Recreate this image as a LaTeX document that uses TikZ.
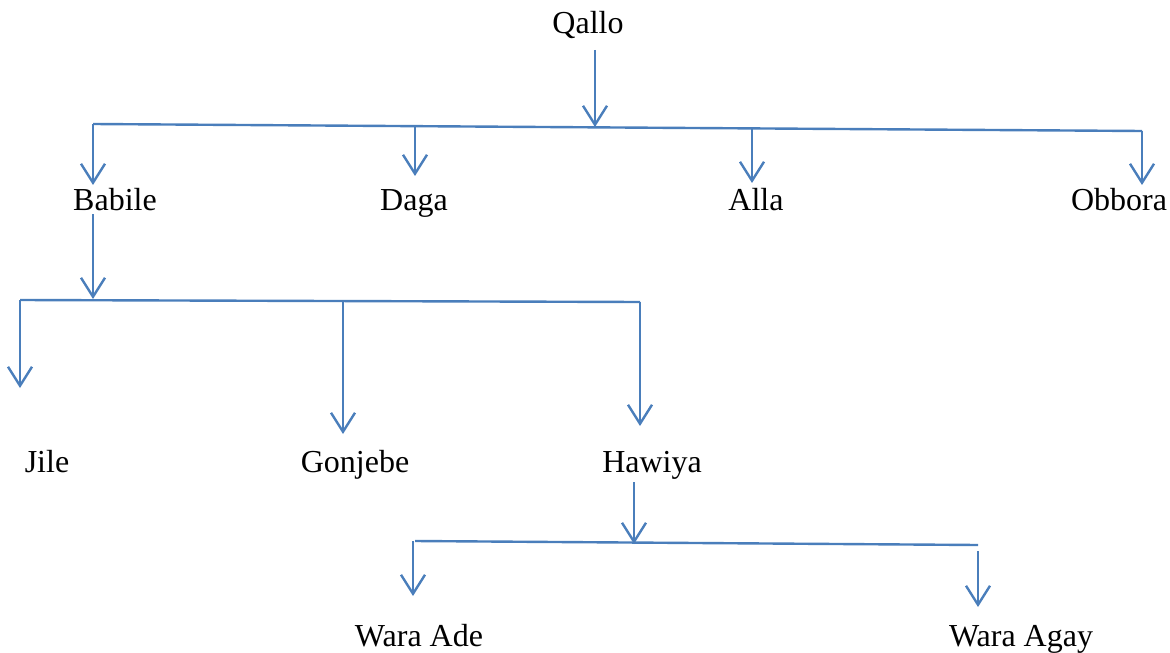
\documentclass[tikz,border=0pt]{standalone}
\usepackage{fontspec}
\setmainfont{Liberation Serif}
\usepackage{xcolor}
\usetikzlibrary{arrows.meta}
\definecolor{linkblue}{RGB}{74,126,187}

\begin{document}
\begin{tikzpicture}[x=0.5pt, y=-0.5pt,
        clan/.style={font=\fontsize{16}{19}\selectfont, inner sep=0pt, anchor=base},
        link/.style={draw=linkblue, line width=1.2pt},
        drop/.style={link, -{Straight Barb[length=9.5pt, width=12pt, line width=1.2pt]}}]
        \useasboundingbox (0, 0) rectangle (1170, 652);
        % names
        \node[clan] (qallo) at (588, 34) {Qallo};
        \foreach \n/\x/\t in {babile/115/Babile, daga/414/Daga, alla/756/Alla, obbora/1119/Obbora}
            \node[clan] (\n) at (\x, 210) {\t};
        \foreach \n/\x/\t in {jile/47/Jile, gonjebe/355/Gonjebe, hawiya/652/Hawiya}
            \node[clan] (\n) at (\x, 472) {\t};
        \foreach \n/\x/\t in {wade/419/Wara Ade, wagay/1021/Wara Agay}
            \node[clan] (\n) at (\x, 646) {\t};
        % first level
        \coordinate (b1l) at (93, 124);
        \coordinate (b1r) at (1142, 131);
        \coordinate (q0) at (595, 50);
        \draw[drop] (q0) -- (595, 127);
        \draw[link] (b1l) -- (b1r);
        \foreach \x/\a/\b in {93/124/185, 415/126/176, 752/128/183, 1142/131/185}
            \draw[drop] (\x, \a) -- (\x, \b);
        % second level
        \coordinate (b2l) at (20, 300);
        \coordinate (b2r) at (640, 302);
        \draw[drop] (93, 214) -- (93, 299);
        \draw[link] (b2l) -- (b2r);
        \foreach \x/\a/\b in {20/300/388, 343/301/434, 640/302/426}
            \draw[drop] (\x, \a) -- (\x, \b);
        % third level
        \coordinate (b3l) at (415, 541);
        \coordinate (b3r) at (978, 545);
        \draw[drop] (634, 482) -- (634, 544);
        \draw[link] (b3l) -- (b3r);
        \foreach \x/\a/\b in {413/541/596, 978/551/607}
            \draw[drop] (\x, \a) -- (\x, \b);
\end{tikzpicture}
\end{document}
